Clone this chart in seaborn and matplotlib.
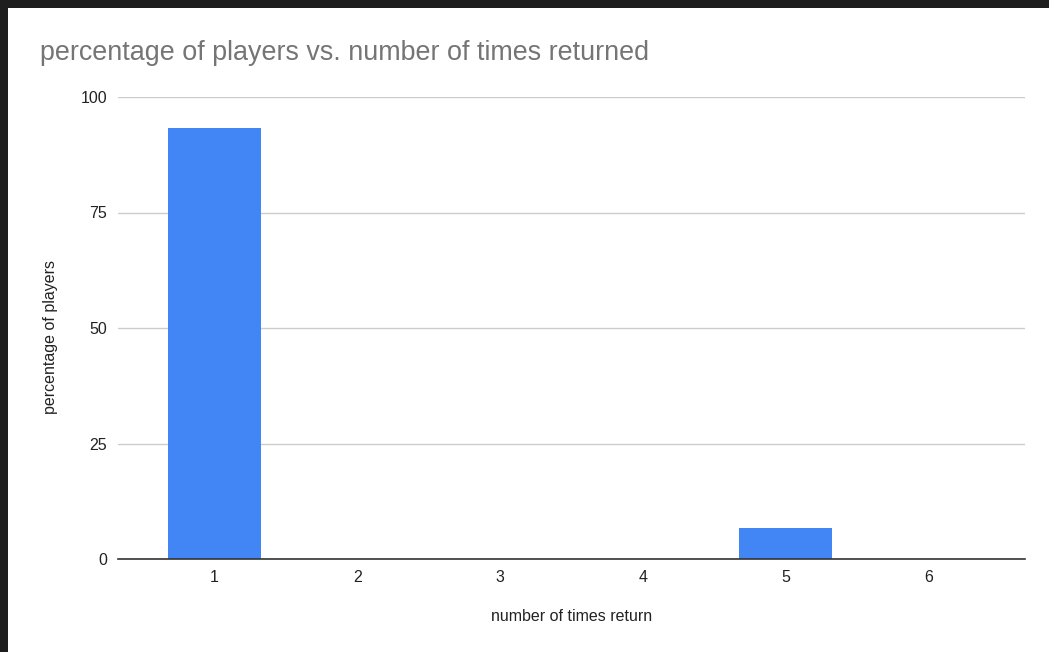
import matplotlib
matplotlib.use("Agg")
import matplotlib.pyplot as plt
import seaborn as sns
import pandas as pd
from matplotlib.patches import Rectangle

# Data
times_returned = ["1", "2", "3", "4", "5", "6"]
pct_players = [93.3, 0, 0, 0, 6.7, 0]
y_ticks = [0, 25, 50, 75, 100]

sns.set_style("white")
plt.rcParams["font.family"] = ["Liberation Sans", "DejaVu Sans"]

W, H = 1049, 652
fig = plt.figure(figsize=(W / 100, H / 100), dpi=100)
fig.patch.set_facecolor("white")

ax = fig.add_axes([118 / W, 1 - 559 / H, (1025 - 118) / W, (559 - 97) / H])

df = pd.DataFrame({"times": times_returned, "pct": pct_players})
sns.barplot(data=df, x="times", y="pct", color="#4285f4", saturation=1,
            width=0.65, ax=ax, zorder=3, edgecolor="none", linewidth=0)

ax.set_ylim(0, 100)
ax.set_xlim(-0.675, 5.675)
ax.set_yticks(y_ticks)
ax.set_yticklabels([str(v) for v in y_ticks])
ax.yaxis.grid(True, color="#cccccc", linewidth=1, zorder=0)
ax.tick_params(axis="both", length=0, labelsize=11.5, colors="#222222")
ax.tick_params(axis="y", pad=8)
ax.tick_params(axis="x", pad=8)
for side in ["top", "right", "left"]:
    ax.spines[side].set_visible(False)
ax.spines["bottom"].set_color("#333333")
ax.spines["bottom"].set_linewidth(1.2)
ax.spines["bottom"].set_zorder(4)

ax.set_xlabel("number of times return", fontsize=11.5, color="#222222", labelpad=17)
ax.set_ylabel("percentage of players", fontsize=11.5, color="#222222", labelpad=0)
ax.yaxis.set_label_coords(-(118 - 58) / (1025 - 118), 0.5 - 9 / (559 - 97))

fig.text(40 / W, 1 - 53 / H, "percentage of players vs. number of times returned",
         fontsize=19.4, color="#757575", ha="left", va="center")

# Dark window frame along top and left edges
fig.patches.append(Rectangle((0, 1 - 8 / H), 1, 8 / H, transform=fig.transFigure,
                             facecolor="#1e1e1e", edgecolor="none", zorder=10))
fig.patches.append(Rectangle((0, 0), 8 / W, 1, transform=fig.transFigure,
                             facecolor="#1e1e1e", edgecolor="none", zorder=10))

fig.savefig("out.png", dpi=100)
